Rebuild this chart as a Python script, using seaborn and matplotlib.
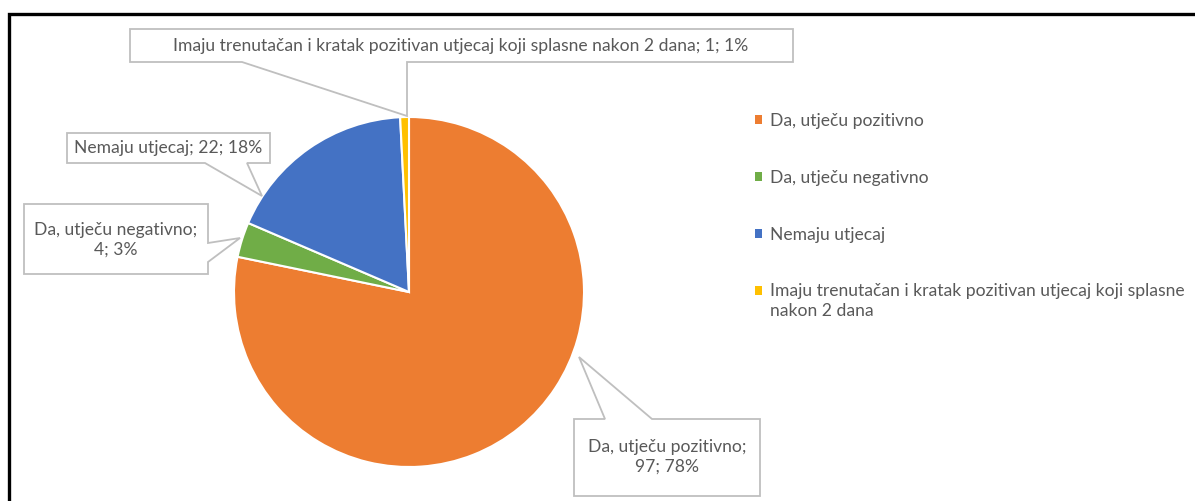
import matplotlib.pyplot as plt
from matplotlib.patches import Patch, Polygon
import seaborn as sns

# Data
categories = ["Da, utječu pozitivno", "Da, utječu negativno", "Nemaju utjecaj",
              "Imaju trenutačan i kratak pozitivan utjecaj koji splasne nakon 2 dana"]
values = [97, 4, 22, 1]
legend_labels = ["Da, utječu pozitivno", "Da, utječu negativno", "Nemaju utjecaj",
                 "Imaju trenutačan i kratak pozitivan utjecaj koji splasne\nnakon 2 dana"]
slice_colors = ["#ED7D31", "#70AD47", "#4472C4", "#FFC000"]

sns.set_theme(style="white")
plt.rcParams['font.family'] = ['Lato', 'DejaVu Sans']

W, H = 1195, 501
TEXT = "#595959"
LINE = "#BFBFBF"
FS = 12.6


def flip(pts):
    # layout points are measured from the top-left corner
    return [(x, H - y) for x, y in pts]


fig = plt.figure(figsize=(W / 100, H / 100), dpi=100)
ax = fig.add_axes([0, 0, 1, 1])

palette = sns.color_palette(slice_colors)
ax.pie(values, colors=palette, startangle=90, counterclock=False,
       center=(409, H - 292), radius=175,
       wedgeprops=dict(edgecolor="white", linewidth=1.5))
ax.set_xlim(0, W)
ax.set_ylim(0, H)
ax.set_aspect("auto")
ax.axis("off")

# outer frame (only left and top edges are visible)
ax.plot([9.5, 9.5, W], [0, H - 13.5, H - 13.5], color="black", lw=2.4,
        solid_capstyle="butt", solid_joinstyle="miter")

# data labels with callouts
total = sum(values)
label_texts = []
for cat, v in zip(categories, values):
    pct = round(v / total * 100)
    label_texts.append(f"{cat}; {v}; {pct}%")
label_texts[0] = label_texts[0].replace("; 97", ";\n97")
label_texts[1] = label_texts[1].replace("; 4", ";\n4")

callouts = [
    # box polygon (with pointer), text center
    ([(574, 419), (605, 419), (579, 357), (652, 419), (760, 419), (760, 496),
      (574, 496)], (667, 457)),
    ([(24, 204), (208, 204), (208, 243), (240, 238), (208, 262), (208, 274),
      (24, 274)], (116, 240)),
    ([(67, 133), (270, 133), (270, 163), (247, 163), (262, 196), (205, 163),
      (67, 163)], (168, 148)),
    ([(130, 29), (793, 29), (793, 62), (407, 62), (407, 116), (242, 62),
      (130, 62)], (461, 46)),
]

for text, (poly, (tx, ty)) in zip(label_texts, callouts):
    ax.add_patch(Polygon(flip(poly), closed=True, facecolor="white",
                         edgecolor=LINE, lw=1.3, zorder=3))
    ax.text(tx, H - ty, text, ha="center", va="center", fontsize=FS,
            color=TEXT, linespacing=1.3, zorder=4)

handles = [Patch(facecolor=c, edgecolor="none") for c in slice_colors]
leg = ax.legend(handles, legend_labels, loc="upper left",
                bbox_to_anchor=(755 / W, 1 - 113 / H), frameon=False,
                fontsize=FS, labelcolor=TEXT, handlelength=0.4,
                handleheight=0.4, handletextpad=0.45, labelspacing=2.33,
                borderpad=0, borderaxespad=0)
for t in leg.get_texts():
    t.set_linespacing(1.32)
# align the marker of the two-line entry with its first line
last = leg.legend_handles[3]
last.set_y(last.get_y() + 8)

fig.savefig("out.png", dpi=100)
